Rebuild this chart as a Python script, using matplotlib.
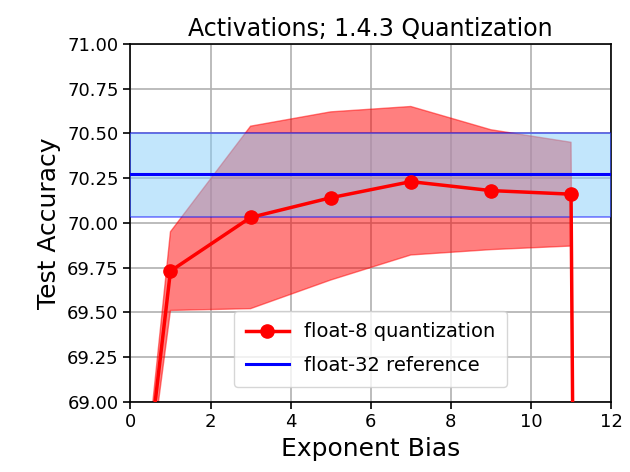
import numpy as np
import matplotlib
matplotlib.use("Agg")
import matplotlib.pyplot as plt

# exponent bias sweep for float-8 (1.4.3) activations
bias = [-1, 1, 3, 5, 7, 9, 11, 13]
acc_mean = [65.9, 69.73, 70.03, 70.14, 70.23, 70.18, 70.16, 10.0]
acc_upper = [65.63, 69.95, 70.54, 70.62, 70.65, 70.52, 70.45, 10.0]
acc_lower = [66.1, 69.51, 69.52, 69.68, 69.82, 69.85, 69.87, 10.0]

# float-32 baseline
ref_mean = 70.27
ref_lower = 70.03
ref_upper = 70.50

plt.rcParams['font.family'] = ['DejaVu Sans']

fig, ax = plt.subplots(figsize=(6.3, 4.72), dpi=100)
fig.subplots_adjust(left=0.207, right=0.970, top=0.907, bottom=0.149)

ax.fill_between(bias, acc_lower, acc_upper, color='red', alpha=0.5, zorder=2)
ax.plot(bias, acc_mean, color='red', lw=2.5, marker='o', ms=9.5,
        label='float-8 quantization', zorder=4)

ax.axhspan(ref_lower, ref_upper, facecolor='lightskyblue', edgecolor='blue',
           alpha=0.5, lw=1.2, zorder=3)
ax.axhline(ref_mean, color='blue', lw=2.2, label='float-32 reference', zorder=3)

ax.set_xlim(0, 12)
ax.set_ylim(69, 71)
ax.set_xticks(np.arange(0, 13, 2))
ax.set_yticks(np.arange(69, 71.01, 0.25))
ax.yaxis.set_major_formatter(matplotlib.ticker.FormatStrFormatter('%.2f'))
ax.tick_params(labelsize=13, width=1.2, length=5)
ax.grid(True, color='#b0b0b0', lw=1.2, zorder=0)
ax.set_axisbelow(True)
for s in ax.spines.values():
    s.set_linewidth(1.2)

ax.set_xlabel('Exponent Bias', fontsize=18)
ax.set_ylabel('Test Accuracy', fontsize=18)
ax.set_title('Activations; 1.4.3 Quantization', fontsize=17)
ax.legend(loc='lower center', fontsize=14, handlelength=2.2,
          labelspacing=0.75, borderpad=0.6, bbox_to_anchor=(0.5, 0.015))

plt.savefig('out.png', dpi=100)
